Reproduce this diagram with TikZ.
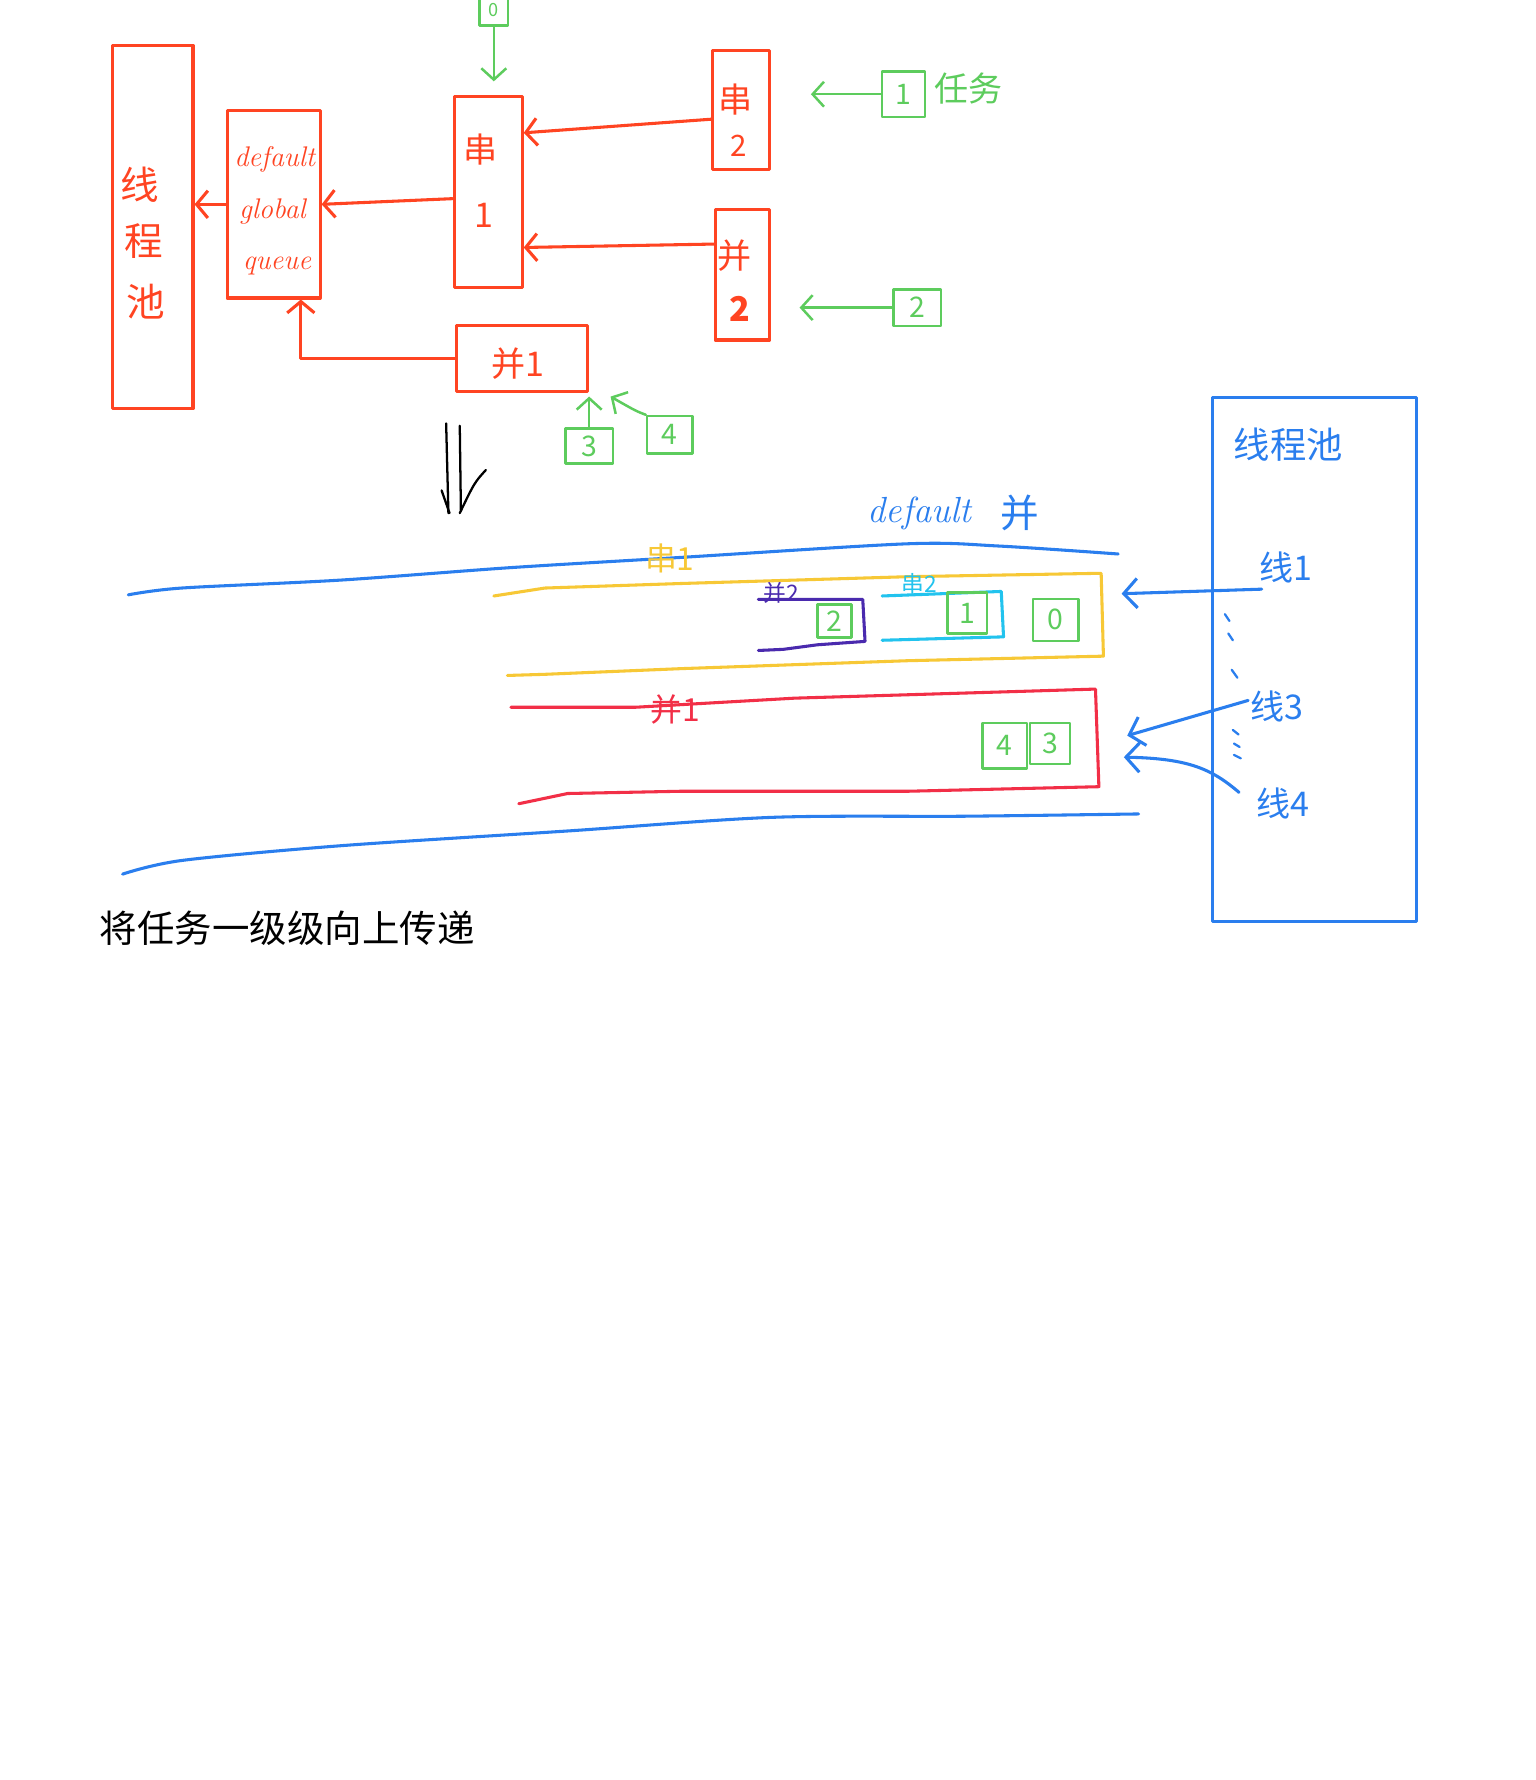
\documentclass[tikz,border=0pt]{standalone}
\usepackage{fontspec}
\newfontfamily\cjk{Noto Sans CJK SC}
\usetikzlibrary{arrows.meta,calc}
\definecolor{redA}{HTML}{FF4422}
\definecolor{redB}{HTML}{F22F47}
\definecolor{grn}{HTML}{5DCC5D}
\definecolor{blu}{HTML}{2A7EEE}
\definecolor{ylw}{HTML}{F7C836}
\definecolor{pur}{HTML}{4A2AAE}
\definecolor{cyn}{HTML}{22C3EE}
\newcommand\myfs[1]{\fontsize{#1}{#1}\selectfont}
\begin{document}
\begin{tikzpicture}[x=1pt,y=-1pt,line cap=round,line join=round,
  rbox/.style={draw=redA,line width=2.7pt,rectangle,inner sep=0pt},
  gbox/.style={draw=grn,line width=2.2pt,rectangle,inner sep=0pt,text=grn,font=\cjk\myfs{25}},
  rtxt/.style={text=redA,inner sep=0pt,font=\cjk\myfs{30}},
  btxt/.style={text=blu,inner sep=0pt,font=\cjk\myfs{30}},
  rarr/.style={draw=redA,line width=2.7pt,-{Straight Barb[length=10pt,width=24pt]}},
  garr/.style={draw=grn,line width=2.2pt,-{Straight Barb[length=10pt,width=22pt]}},
  barr/.style={draw=blu,line width=2.7pt,-{Straight Barb[length=12pt,width=26pt]}},
  bline/.style={draw=blu,line width=2.7pt},
]
\useasboundingbox[fill=white] (0,0) rectangle (1353,1568);

% ---------- top red part ----------
\node[rbox,minimum width=71pt,minimum height=320pt] (pool) at (134.5,200) {};
\node[rtxt,font=\cjk\myfs{34}] (poolA) at (123,163) {线};
\node[rtxt,font=\cjk\myfs{34}] (poolB) at (127,212) {程};
\node[rtxt,font=\cjk\myfs{34}] (poolC) at (128,266) {池};

\node[rbox,minimum width=82pt,minimum height=165pt] (q) at (241,180) {};
\node[rtxt,font=\itshape\myfs{25}] (qa) at (242,140) {default};
\node[rtxt,font=\itshape\myfs{25}] (qb) at (240,186) {global};
\node[rtxt,font=\itshape\myfs{25}] (qc) at (244,234) {queue};

\node[rbox,minimum width=60pt,minimum height=168pt] (c1) at (430,169) {};
\node[rtxt] (c1a) at (423,132) {串};
\node[rtxt] (c1b) at (426,190) {1};

\node[rbox,minimum width=115pt,minimum height=58pt] (b1) at (460,316) {};
\node[rtxt] (b1t) at (456,320) {并1};

\node[rbox,minimum width=50pt,minimum height=105pt] (c2) at (653,97) {};
\node[rtxt] (c2a) at (648,88) {串};
\node[rtxt,font=\cjk\myfs{26}] (c2b) at (651,128) {2};

\node[rbox,minimum width=48pt,minimum height=115pt] (b2) at (654,242) {};
\node[rtxt] (b2a) at (647,225) {并};
\node[rtxt,font=\cjk\bfseries\myfs{30}] (b2b) at (652,272) {2};

% green tasks
\node[gbox,minimum width=25pt,minimum height=27pt,font=\cjk\myfs{16}] (t0) at (435,9) {0};
\node[gbox,minimum width=38pt,minimum height=40pt] (t1) at (796,83) {1};
\node[text=grn,inner sep=0pt,font=\cjk\myfs{30}] (task) at (853,78) {任务};
\node[gbox,minimum width=42pt,minimum height=32pt] (t2) at (808,271) {2};
\node[gbox,minimum width=42pt,minimum height=31pt] (t3) at (519,393) {3};
\node[gbox,minimum width=40pt,minimum height=33pt] (t4) at (590,383) {4};

% red arrows
\draw[rarr] ([yshift=-8pt]c2.west) -- ([yshift=52pt]c1.east);
\draw[rarr] ([yshift=27pt]b2.west) -- ([yshift=-49pt]c1.east);
\draw[rarr] ([yshift=-6pt]c1.west) -- (q.east);
\draw[rarr] (q.west) -- (q.west -| pool.east);
\draw[rarr] (b1.west) -| ([xshift=24pt]q.south);

% green arrows
\draw[garr] (t0.south) -- ($(t0.south |- c1.north)+(0,-12)$);
\draw[garr] (t1.west) -- ($(t1.west -| c2.east)+(35,0)$);
\draw[garr] (t2.west) -- ($(t2.west -| b2.east)+(25,0)$);
\draw[garr] (t3.north) -- ($(t3.north |- b1.south)+(0,3)$);
\draw[garr] (t4.north west) .. controls (560,362) .. ($(b1.south east)+(19,3)$);

% black double arrow
\draw[black,line width=2pt] (393,373) -- (395,452);
\draw[black,line width=2pt] (405,375) -- (406,450);
\draw[black,line width=2pt] (389,432) -- (396,452);
\draw[black,line width=2pt] (428,414) .. controls (418,425) .. (405,452);

% ---------- bottom blue part ----------
\draw[bline] plot[smooth] coordinates {(113,524) (160,518) (300,511) (450,500) (600,491) (800,479) (880,481) (985,488)};
\draw[bline] plot[smooth] coordinates {(108,770) (160,758) (300,745) (500,732) (680,720) (850,719) (1003,717)};
\node[text=blu,inner sep=0pt,font=\itshape\myfs{32}] (dflt) at (810,452) {default};
\node[btxt,font=\cjk\myfs{34}] (dfltb) at (898,452) {并};

% yellow lane (串1)
\draw[ylw,line width=2.7pt] (435,525) -- (480,518) -- (600,514) -- (800,508) -- (970,505) -- (972,578)
  -- (800,582) -- (600,589) -- (480,594) -- (447,595);
\node[text=ylw,inner sep=0pt,font=\cjk\myfs{28}] (lc1) at (590,492) {串1};
% purple (并2)
\draw[pur,line width=2.7pt] (668,528) -- (760,528) -- (762,565) -- (720,568) -- (690,572) -- (668,573);
\node[text=pur,inner sep=0pt,font=\cjk\myfs{20}] (lb2) at (688,522) {并2};
% cyan (串2)
\draw[cyn,line width=2.7pt] (777,525) -- (882,521) -- (884,561) -- (777,564);
\node[text=cyn,inner sep=0pt,font=\cjk\myfs{20}] (lc2) at (810,514) {串2};
\node[gbox,minimum width=30pt,minimum height=29pt] (g2) at (735,547) {2};
\node[gbox,minimum width=35pt,minimum height=36pt] (g1) at (852,540) {1};
\node[gbox,minimum width=40pt,minimum height=37pt] (g0) at (930,546) {0};

% red lane (并1)
\draw[redB,line width=2.7pt] (450,623) -- (560,623) -- (700,615) -- (900,609) -- (965,607) -- (968,693)
  -- (800,697) -- (600,697) -- (500,699) -- (457,708);
\node[text=redB,inner sep=0pt,font=\cjk\myfs{28}] (lb1) at (595,625) {并1};
\node[gbox,minimum width=39pt,minimum height=40pt] (g4) at (885,657) {4};
\node[gbox,minimum width=35pt,minimum height=36pt] (g3) at (925,655) {3};

% blue thread pool
\node[draw=blu,line width=2.7pt,inner sep=0pt,minimum width=180pt,minimum height=462pt] (pool2) at (1158,581) {};
\node[btxt,font=\cjk\myfs{32}] (pool2t) at (1135,392) {线程池};
\node[btxt] (th1) at (1133,500) {线1};
\node[btxt] (th3) at (1125,622) {线3};
\node[btxt] (th4) at (1130,708) {线4};
\coordinate (tipA) at (988,523);
\coordinate (tipB) at (993,648);
\coordinate (tipC) at (990,667);
\draw[barr] ($(th1.south west)+(2,5)$) -- (tipA);
\draw[barr] ($(th3.west)+(-2,-5)$) -- (tipB);
\draw[barr] ($(th4.north west)+(-15,4)$) .. controls (1068,678) and (1048,668) .. (tipC);
\foreach \a/\b/\c/\d in {1079/541/1083/547, 1082/558/1086/564, 1085/590/1090/597, 1086/643/1091/647, 1087/655/1092/658, 1087/665/1093/668}
  \draw[blu,line width=2pt] (\a,\b) -- (\c,\d);

% caption
\node[inner sep=0pt,font=\cjk\myfs{33}] (caption) at (253,818) {将任务一级级向上传递};
\end{tikzpicture}
\end{document}
